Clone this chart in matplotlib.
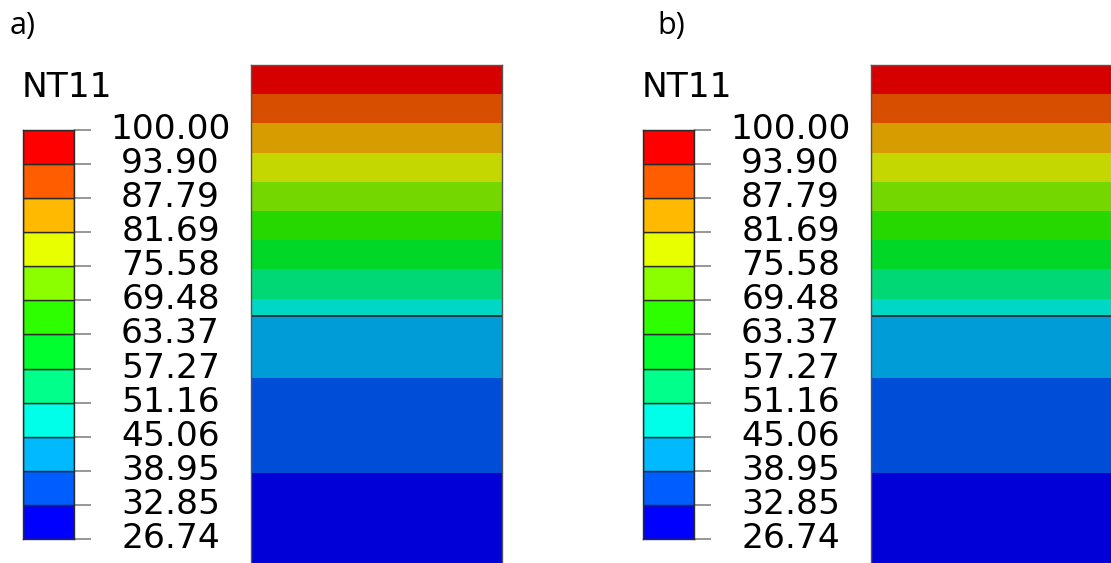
import numpy as np
import matplotlib
matplotlib.use("Agg")
import matplotlib.pyplot as plt
from matplotlib import transforms

# ---- data -------------------------------------------------------------
levels = [26.74, 32.85, 38.95, 45.06, 51.16, 57.27, 63.37, 69.48,
          75.58, 81.69, 87.79, 93.90, 100.00]
level_labels = ["26.74", "32.85", "38.95", "45.06", "51.16", "57.27", "63.37",
                "69.48", "75.58", "81.69", "87.79", "93.90", "100.00"]
# Abaqus default spectrum, lowest band first
band_colors = ["#0000FF", "#005DFF", "#00B9FF", "#00FFE8", "#00FF8B", "#00FF2E",
               "#2EFF00", "#8BFF00", "#E8FF00", "#FFB900", "#FF5D00", "#FF0000"]
# temperature profile through the block (depth from top surface);
# temperature jumps across the interface between the two layers
depth = [0, 29, 58.3, 87.7, 117, 146, 175, 204.3, 233.7, 251, 251.5,
         313.3, 408.3, 498]
temperature = [100.00, 93.90, 87.79, 81.69, 75.58, 69.48, 63.37, 57.27,
               51.16, 47.55, 44.9, 38.95, 32.85, 28.5]
interface_depth = 251
panel_titles = ["a)", "b)"]
legend_title = "NT11"

# ---- figure -----------------------------------------------------------
W, H = 1111, 563
fig = plt.figure(figsize=(W / 100, H / 100), dpi=100)


def px_axes(left, top, right, bottom):
    return fig.add_axes([left / W, 1 - bottom / H, (right - left) / W, (bottom - top) / H])


def shade(c, f=215 / 255):
    r, g, b = matplotlib.colors.to_rgb(c)
    return (r * f, g * f, b * f)


block_colors = [shade(c) for c in band_colors]
FS = 24.8
title_pos = [(10, 34), (657, 34)]

for p, off in enumerate([0, 620]):
    # legend colour bar
    lax = px_axes(23 + off, 130, 74 + off, 539)
    heights = np.diff(levels)
    lax.bar(0.5, heights, bottom=levels[:-1], width=1.0, color=band_colors,
            edgecolor="#2a2a2a", linewidth=1.0)
    lax.set_xlim(0, 1)
    lax.set_ylim(levels[0], levels[-1])
    lax.set_xticks([])
    lax.yaxis.tick_right()
    lax.set_yticks(levels)
    lax.set_yticklabels([])
    lax.tick_params(axis="y", direction="out", length=12.2, width=1.1,
                    colors="#7a7a7a")
    for s in lax.spines.values():
        s.set_color("#2a2a2a")
        s.set_linewidth(1.0)
    trans = transforms.offset_copy(lax.get_yaxis_transform(), fig=fig,
                                   x=0, y=-9, units="dots")
    for lv, lab in zip(levels, level_labels):
        lax.text(147.5 / 51, lv, lab, transform=trans, ha="center",
                 va="baseline", fontsize=FS, family="DejaVu Sans",
                 color="black", clip_on=False)
    fig.text((21.6 + off) / W, 1 - 96.7 / H, legend_title, fontsize=FS,
             family="DejaVu Sans", ha="left", va="baseline")
    tx, ty = title_pos[p]
    fig.text(tx / W, 1 - ty / H, panel_titles[p], fontsize=22,
             family=["Open Sans", "DejaVu Sans"], ha="left", va="baseline")

    # block with temperature contours
    bax = px_axes(251 + off, 65, 502 + off, 563)
    X = np.array([0.0, 1.0])
    Y = np.array(depth)
    Z = np.tile(np.array(temperature)[:, None], (1, 2))
    bax.contourf(X, Y, Z, levels=levels, colors=block_colors)
    bax.axhline(interface_depth, color="#1f2f33", linewidth=1.3)
    bax.set_xlim(0, 1)
    bax.set_ylim(depth[-1], depth[0])
    bax.set_xticks([])
    bax.set_yticks([])
    for name, s in bax.spines.items():
        s.set_color("#555555")
        s.set_linewidth(1.0)
    bax.spines["bottom"].set_visible(False)

fig.savefig("out.png", dpi=100, facecolor="white")
